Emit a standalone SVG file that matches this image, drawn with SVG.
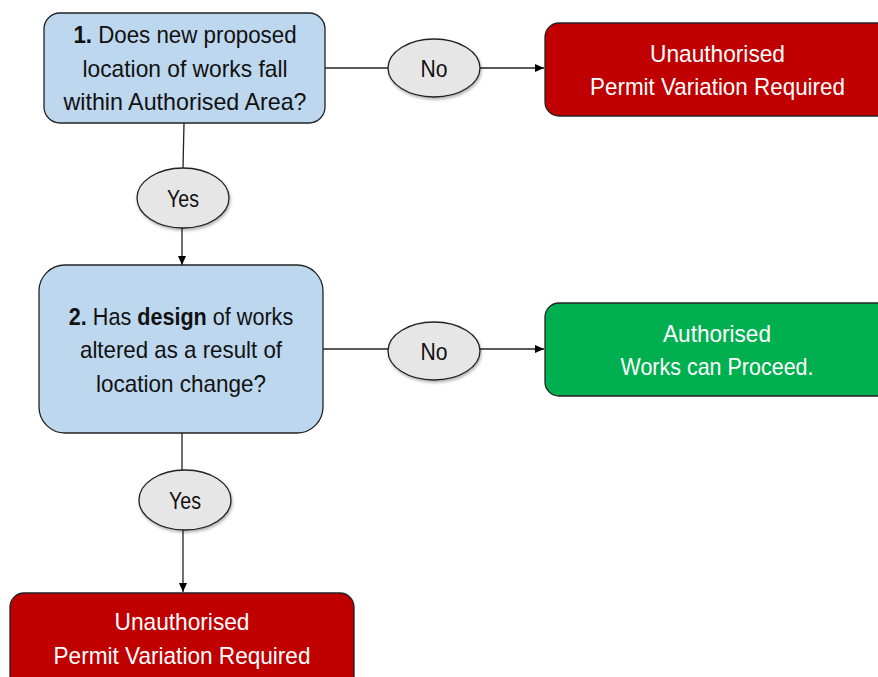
<svg xmlns="http://www.w3.org/2000/svg" width="878" height="677" viewBox="0 0 878 677">
<defs>
<marker id="arr" markerWidth="10" markerHeight="8" refX="9" refY="4" orient="auto" markerUnits="userSpaceOnUse">
<path d="M0,0 L9,4 L0,8 Z" fill="#000"/>
</marker>
<filter id="sh" x="-20%" y="-20%" width="140%" height="150%">
<feDropShadow dx="1" dy="2" stdDeviation="1.5" flood-color="#000" flood-opacity="0.3"/>
</filter>
</defs>
<style>
text{font-family:"Liberation Sans",Arial,sans-serif;font-size:24px;text-anchor:middle}
.q{fill:#BDD7EE;stroke:#222;stroke-width:1.3}
.red{fill:#C00000;stroke:#222;stroke-width:1.3}
.grn{fill:#00B050;stroke:#222;stroke-width:1.3}
.lab{fill:#E6E6E6;stroke:#222;stroke-width:1.3}
.dk{fill:#111}
.wt{fill:#fff}
.c{fill:none;stroke:#222;stroke-width:1.3}
.b{font-weight:bold}
</style>
<g id="connectors">
<line class="c" x1="325" y1="68" x2="388" y2="68"/>
<line class="c" x1="480" y1="68" x2="544" y2="68" marker-end="url(#arr)"/>
<line class="c" x1="184" y1="123" x2="183" y2="168"/>
<line class="c" x1="182" y1="228" x2="182" y2="265" marker-end="url(#arr)"/>
<line class="c" x1="323" y1="349" x2="388" y2="349"/>
<line class="c" x1="480" y1="349" x2="544" y2="349" marker-end="url(#arr)"/>
<line class="c" x1="182" y1="433" x2="182" y2="470"/>
<line class="c" x1="183" y1="530" x2="183" y2="592" marker-end="url(#arr)"/>
</g>
<g id="q1">
<rect class="q" x="44" y="13" width="281" height="110" rx="16"/>
<text class="dk" transform="translate(185,43) scale(0.93,1)"><tspan class="b">1.</tspan> Does new proposed</text>
<text class="dk" x="185" y="77" textLength="205" lengthAdjust="spacingAndGlyphs">location of works fall</text>
<text class="dk" x="185" y="110" textLength="243" lengthAdjust="spacingAndGlyphs">within Authorised Area?</text>
</g>
<g id="no1">
<ellipse class="lab" cx="434" cy="68" rx="46" ry="29" filter="url(#sh)"/>
<text class="dk" x="434" y="77" textLength="27" lengthAdjust="spacingAndGlyphs">No</text>
</g>
<g id="unauth1">
<rect class="red" x="545" y="23" width="350" height="93" rx="14"/>
<text class="wt" x="717.5" y="62" textLength="135" lengthAdjust="spacingAndGlyphs">Unauthorised</text>
<text class="wt" x="717.5" y="95" textLength="255" lengthAdjust="spacingAndGlyphs">Permit Variation Required</text>
</g>
<g id="yes1">
<ellipse class="lab" cx="183" cy="198" rx="46" ry="30" filter="url(#sh)"/>
<text class="dk" x="183" y="207" textLength="32" lengthAdjust="spacingAndGlyphs">Yes</text>
</g>
<g id="q2">
<rect class="q" x="39" y="265" width="284" height="168" rx="26"/>
<text class="dk" transform="translate(181,325) scale(0.9,1)"><tspan class="b">2.</tspan> Has <tspan class="b">design</tspan> of works</text>
<text class="dk" x="181" y="358" textLength="202" lengthAdjust="spacingAndGlyphs">altered as a result of</text>
<text class="dk" x="181" y="392" textLength="170" lengthAdjust="spacingAndGlyphs">location change?</text>
</g>
<g id="no2">
<ellipse class="lab" cx="434" cy="351" rx="46" ry="29" filter="url(#sh)"/>
<text class="dk" x="434" y="360" textLength="27" lengthAdjust="spacingAndGlyphs">No</text>
</g>
<g id="auth">
<rect class="grn" x="545" y="303" width="350" height="93" rx="14"/>
<text class="wt" x="717" y="342" textLength="108" lengthAdjust="spacingAndGlyphs">Authorised</text>
<text class="wt" x="717" y="375" textLength="193" lengthAdjust="spacingAndGlyphs">Works can Proceed.</text>
</g>
<g id="yes2">
<ellipse class="lab" cx="185" cy="500" rx="46" ry="30" filter="url(#sh)"/>
<text class="dk" x="185" y="509" textLength="32" lengthAdjust="spacingAndGlyphs">Yes</text>
</g>
<g id="unauth2">
<rect class="red" x="10" y="593" width="344" height="110" rx="14"/>
<text class="wt" x="182" y="630" textLength="135" lengthAdjust="spacingAndGlyphs">Unauthorised</text>
<text class="wt" x="182" y="664" textLength="257" lengthAdjust="spacingAndGlyphs">Permit Variation Required</text>
</g>
</svg>
